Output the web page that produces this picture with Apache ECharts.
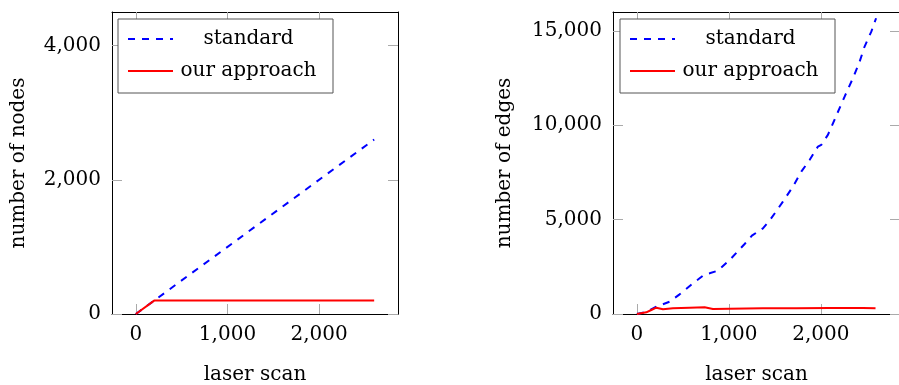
<!DOCTYPE html>
<html>
<head>
<meta charset="utf-8">
<script src="https://cdn.jsdelivr.net/npm/echarts@6/dist/echarts.min.js"></script>
<style>
html,body{margin:0;padding:0;background:#fff;}
#chart{width:899px;height:385px;}
</style>
</head>
<body>
<div id="chart"></div>
<script>
// ---- data ----
var seriesNames = ['standard', 'our approach'];

// left panel: number of nodes
var nodesScanStandard = [0, 200, 2600];
var nodesStandard     = [0, 200, 2600];
var nodesScanOurs     = [0, 200, 2600];
var nodesOurs         = [0, 200, 200];

// right panel: number of edges
var edgesScanStandard = [0, 100, 211, 355, 464, 609, 736, 790, 880, 1008, 1171, 1250, 1370, 1450, 1587, 1696, 1787, 1877, 1968, 2004, 2076, 2149, 2258, 2348, 2421, 2475, 2548, 2600];
var edgesStandard     = [0, 100, 387, 652, 1042, 1625, 2100, 2155, 2295, 2860, 3710, 4150, 4540, 5000, 5950, 6750, 7540, 8160, 8870, 8960, 9490, 10300, 11520, 12490, 13370, 14170, 14960, 15670];
var edgesScanOurs     = [0, 102, 156, 211, 283, 391, 573, 736, 826, 1008, 1370, 1732, 2094, 2457, 2594];
var edgesOurs         = [0, 88, 212, 336, 247, 300, 336, 353, 265, 283, 300, 300, 318, 318, 300];

// ticks
var xTicks = [0, 1000, 2000];
var nodesTicks = [0, 2000, 4000];
var edgesTicks = [0, 5000, 10000, 15000];

var xLabel = 'laser scan';
var nodesLabel = 'number of nodes';
var edgesLabel = 'number of edges';

// ---- chart ----
var FONT = 'DejaVu Serif';
function pairs(xs, ys) { return xs.map(function (x, i) { return [x, ys[i]]; }); }
function fmt(v) { return Number(v).toLocaleString('en-US'); }

function makeX(grid, pos, withLabels) {
  return {
    type: 'value', gridIndex: grid, position: pos, min: -260, max: 2860,
    name: withLabels ? xLabel : '', nameLocation: 'middle', nameGap: 51,
    nameTextStyle: { fontFamily: FONT, fontSize: 20, color: '#000' },
    axisLine: { show: true, onZero: false, lineStyle: { color: '#000', width: 1 } },
    axisTick: { show: true, inside: true, length: 10, customValues: xTicks, lineStyle: { color: '#aaa', width: 1 } },
    axisLabel: { show: withLabels, customValues: xTicks, formatter: fmt, margin: 11, fontFamily: FONT, fontSize: 20, color: '#000' },
    splitLine: { show: false }
  };
}
function makeY(grid, pos, withLabels, max, ticks, name, gap) {
  return {
    type: 'value', gridIndex: grid, position: pos, min: 0, max: max,
    name: withLabels ? name : '', nameLocation: 'middle', nameGap: gap,
    nameTextStyle: { fontFamily: FONT, fontSize: 20, color: '#000' },
    axisLine: { show: true, onZero: false, lineStyle: { color: '#000', width: 1 } },
    axisTick: { show: true, inside: true, length: 10, customValues: ticks, lineStyle: { color: '#aaa', width: 1 } },
    axisLabel: { show: withLabels, customValues: ticks, formatter: fmt, margin: 11, fontFamily: FONT, fontSize: 20, color: '#000' },
    splitLine: { show: false }
  };
}
function makeLegend(left) {
  return {
    left: left, top: 19, orient: 'vertical',
    data: seriesNames,
    itemWidth: 45, itemHeight: 14, itemGap: 8,
    padding: [8, 14, 10, 9],
    borderColor: '#555', borderWidth: 1, backgroundColor: '#fff',
    selectedMode: false,
    itemStyle: { opacity: 0 },
    formatter: function (n) { return '{c|' + n + '}'; },
    textStyle: {
      fontFamily: FONT, fontSize: 20, color: '#000',
      rich: { c: { width: 141, height: 24, align: 'center', fontFamily: FONT, fontSize: 20, lineHeight: 24, color: '#000' } }
    }
  };
}
var blueStyle = { color: '#0000ff', width: 2, type: [7, 7] };
var redStyle = { color: '#ff0000', width: 2, type: 'solid' };

var option = {
  animation: false,
  backgroundColor: '#fff',
  grid: [
    { left: 112, top: 12, width: 286, height: 302, outerBoundsMode: 'none', containLabel: false },
    { left: 613, top: 12, width: 287, height: 302, outerBoundsMode: 'none', containLabel: false }
  ],
  xAxis: [makeX(0, 'bottom', true), makeX(0, 'top', false), makeX(1, 'bottom', true), makeX(1, 'top', false)],
  yAxis: [
    makeY(0, 'left', true, 4500, nodesTicks, nodesLabel, 83),
    makeY(0, 'right', false, 4500, nodesTicks, '', 0),
    makeY(1, 'left', true, 16000, edgesTicks, edgesLabel, 98),
    makeY(1, 'right', false, 16000, edgesTicks, '', 0)
  ],
  legend: [makeLegend(118), makeLegend(620)],
  series: [
    { name: seriesNames[0], type: 'line', xAxisIndex: 0, yAxisIndex: 0, data: pairs(nodesScanStandard, nodesStandard), symbol: 'none', lineStyle: blueStyle, itemStyle: { color: '#0000ff' } },
    { name: seriesNames[1], type: 'line', xAxisIndex: 0, yAxisIndex: 0, data: pairs(nodesScanOurs, nodesOurs), symbol: 'none', lineStyle: redStyle, itemStyle: { color: '#ff0000' } },
    { name: seriesNames[0], type: 'line', xAxisIndex: 2, yAxisIndex: 2, data: pairs(edgesScanStandard, edgesStandard), symbol: 'none', lineStyle: blueStyle, itemStyle: { color: '#0000ff' } },
    { name: seriesNames[1], type: 'line', xAxisIndex: 2, yAxisIndex: 2, data: pairs(edgesScanOurs, edgesOurs), symbol: 'none', lineStyle: redStyle, itemStyle: { color: '#ff0000' } }
  ]
};
var chart = echarts.init(document.getElementById('chart'), null, { renderer: 'canvas' });
chart.setOption(option);
</script>
</body>
</html>
